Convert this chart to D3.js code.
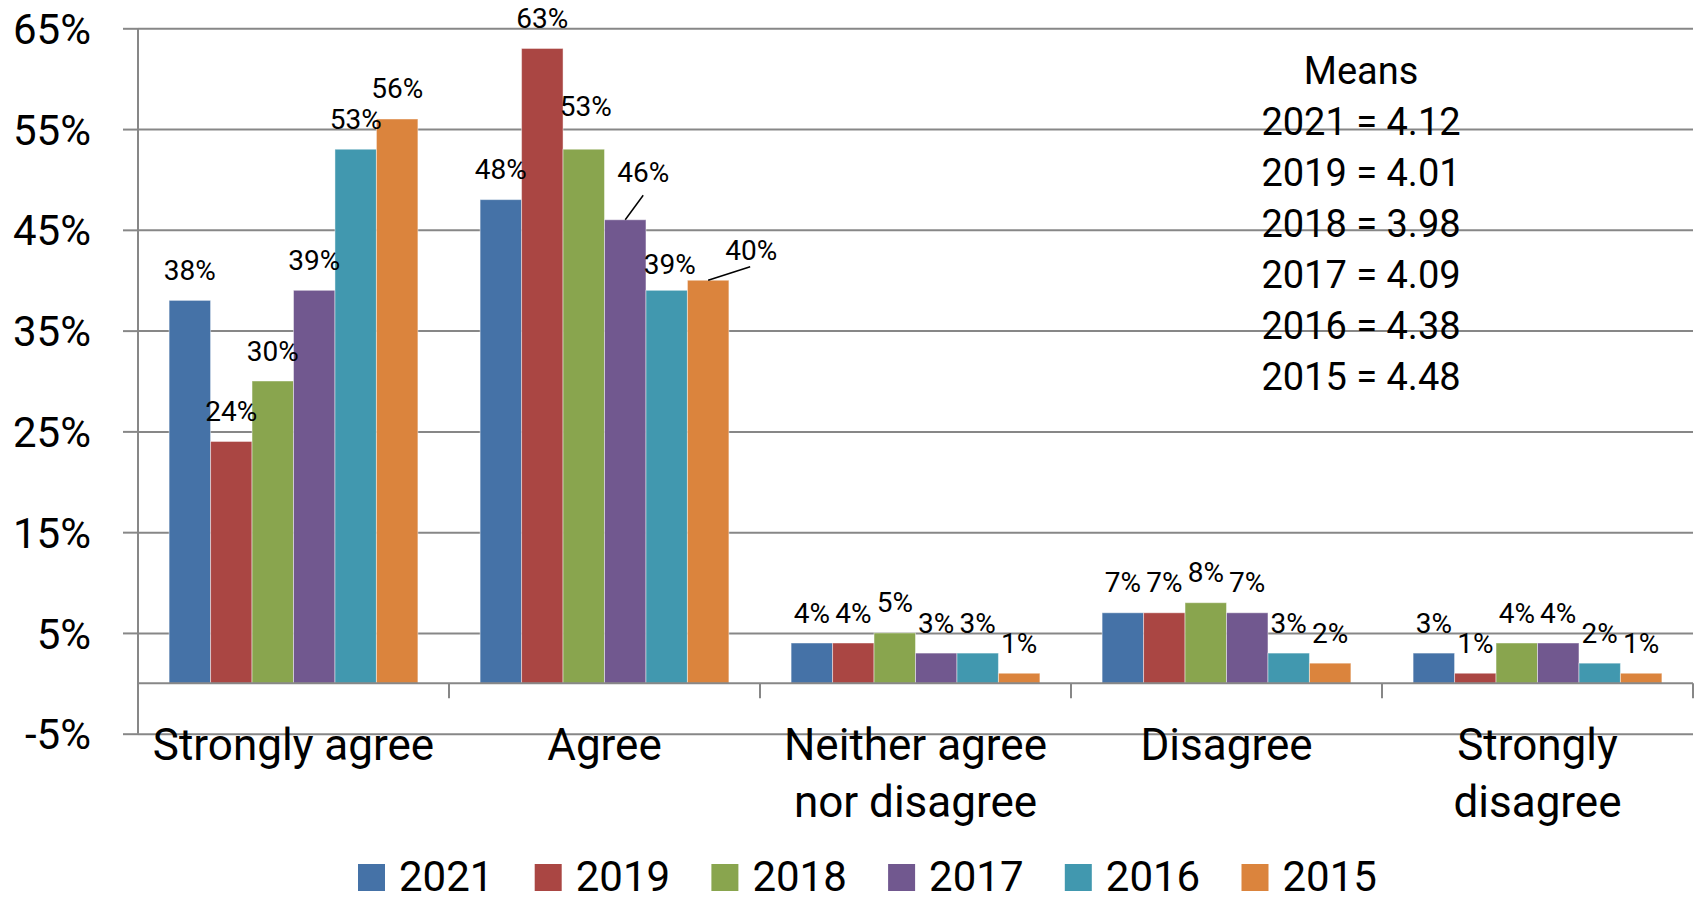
<!DOCTYPE html>
<html>
<head>
<meta charset="utf-8">
<script src="https://cdn.jsdelivr.net/npm/d3@7"></script>
<style>
  body { margin: 0; background: #fff; }
  text { font-family: Roboto, "Liberation Sans", sans-serif; fill: #000; }
</style>
</head>
<body>
<script>
'use strict';
// data
let categories = ["Strongly agree", "Agree", "Neither agree nor disagree", "Disagree", "Strongly disagree"];
let years = ["2021", "2019", "2018", "2017", "2016", "2015"];
let y2021 = [38, 48, 4, 7, 3];
let y2019 = [24, 63, 4, 7, 1];
let y2018 = [30, 53, 5, 8, 4];
let y2017 = [39, 46, 3, 7, 4];
let y2016 = [53, 39, 3, 3, 2];
let y2015 = [56, 40, 1, 2, 1];
let yTicks = [-5, 5, 15, 25, 35, 45, 55, 65];
let meansTitle = "Means";
let means = ["4.12", "4.01", "3.98", "4.09", "4.38", "4.48"];

let seriesValues = [y2021, y2019, y2018, y2017, y2016, y2015];
let colors = ["#4572A7", "#AA4643", "#89A54E", "#71588F", "#4198AF", "#DB843D"];

// a few labels were moved by hand in the original (px), some with leader lines
let labelNudge = {
	"Agree|2018": {dx: 2, dy: -13},
	"Agree|2017": {dx: 18, dy: -17, leader: true},
	"Agree|2016": {dx: 3, dy: 4},
	"Agree|2015": {dx: 43, dy: 0, leader: true}
};

let width = 1696, height = 900;
let left = 138, right = 1693;

let svg = d3.select("body").append("svg")
	.attr("width", width)
	.attr("height", height);

let x0 = d3.scaleBand()
	.domain(categories)
	.range([left, right])
	.paddingInner(0.2)
	.paddingOuter(0.1);

let x1 = d3.scaleBand()
	.domain(years)
	.range([0, x0.bandwidth()]);

let y = d3.scaleLinear()
	.domain([-5, 65])
	.range([733.7, 28.3]);

let gray = "#878787";

// gridlines
let grid = svg.append("g")
	.attr("transform", "translate(" + left + ",0)")
	.call(d3.axisLeft(y).tickValues(yTicks).tickSize(-(right - left)).tickFormat(""));
grid.select(".domain").remove();
grid.selectAll("line").attr("stroke", gray).attr("stroke-width", 2);

// y axis
let yAxis = svg.append("g")
	.attr("transform", "translate(" + left + ",0)")
	.call(d3.axisLeft(y).tickValues(yTicks).tickSize(15).tickPadding(32).tickFormat(function(d){return d + "%";}));
yAxis.select(".domain").attr("stroke", gray).attr("stroke-width", 2).attr("d", "M0," + y(-5) + "V" + y(65));
yAxis.selectAll("line").attr("stroke", gray).attr("stroke-width", 2);
yAxis.selectAll("text")
	.attr("font-size", 42)
	.attr("font-family", "Roboto, sans-serif")
	.attr("fill", "#000")
	.attr("dy", "0.36em");

// bars
let rows = [];
categories.forEach(function(c, ci){
	years.forEach(function(yr, si){
		rows.push({cat: c, year: yr, value: seriesValues[si][ci], color: colors[si]});
	});
});

svg.append("g").selectAll("rect")
	.data(rows)
	.enter().append("rect")
		.attr("x", function(d){return x0(d.cat) + x1(d.year);})
		.attr("y", function(d){return y(Math.max(0, d.value));})
		.attr("width", x1.bandwidth())
		.attr("height", function(d){return Math.abs(y(d.value) - y(0));})
		.attr("fill", function(d){return d.color;})
		.attr("stroke", "#fff")
		.attr("stroke-opacity", 0.45)
		.attr("stroke-width", 1);

// x axis at zero
let xg = svg.append("g");
xg.append("line")
	.attr("x1", left).attr("x2", right)
	.attr("y1", y(0)).attr("y2", y(0))
	.attr("stroke", gray).attr("stroke-width", 2);
xg.selectAll("line.tick")
	.data(d3.range(1, categories.length + 1))
	.enter().append("line")
		.attr("class", "tick")
		.attr("x1", function(i){return left + i * x0.step();})
		.attr("x2", function(i){return left + i * x0.step();})
		.attr("y1", y(0))
		.attr("y2", y(0) + 15)
		.attr("stroke", gray).attr("stroke-width", 2);

// category labels, wrapped like the original
let catLabels = xg.selectAll("text.cat")
	.data(categories)
	.enter().append("text")
		.attr("class", "cat")
		.attr("x", function(d){return x0(d) + x0.bandwidth() / 2;})
		.attr("y", 760)
		.attr("text-anchor", "middle")
		.attr("font-size", 44)
		.text(function(d){return d;});

catLabels.each(function(d){
	let t = d3.select(this);
	let words = d.split(" ");
	let cx = t.attr("x");
	t.text(null);
	let line = [];
	let tspan = t.append("tspan").attr("x", cx).attr("dy", 0);
	words.forEach(function(w){
		line.push(w);
		tspan.text(line.join(" "));
		if (tspan.node().getComputedTextLength() > x0.step() - 8 && line.length > 1) {
			line.pop();
			tspan.text(line.join(" "));
			line = [w];
			tspan = t.append("tspan").attr("x", cx).attr("dy", 57).text(w);
		}
	});
});

// data labels
let labels = svg.append("g");
rows.forEach(function(d){
	let n = labelNudge[d.cat + "|" + d.year] || {dx: 0, dy: 0};
	let bx = x0(d.cat) + x1(d.year) + x1.bandwidth() / 2;
	let by = y(d.value);
	let tx = bx + n.dx;
	let ty = by - 20.5 + n.dy;
	if (n.leader) {
		labels.append("line")
			.attr("x1", bx)
			.attr("y1", by)
			.attr("x2", tx - (n.dx > 30 ? 1 : 0))
			.attr("y2", ty + 13 - (n.dx > 30 ? 6 : 0))
			.attr("stroke", "#000")
			.attr("stroke-width", 1.5);
	}
	labels.append("text")
		.attr("x", tx)
		.attr("y", ty)
		.attr("text-anchor", "middle")
		.attr("font-size", 28)
		.text(d.value + "%");
});

// means text box
let meansBox = svg.append("text")
	.attr("x", 1361)
	.attr("y", 83.5)
	.attr("text-anchor", "middle")
	.attr("font-size", 38);
meansBox.append("tspan").attr("x", 1361).attr("dy", 0).text(meansTitle);
years.forEach(function(yr, i){
	meansBox.append("tspan")
		.attr("x", 1361)
		.attr("dy", 51.1)
		.text(yr + " = " + means[i]);
});

// legend
let legend = svg.append("g").selectAll("g")
	.data(years)
	.enter().append("g")
		.attr("transform", function(d, i){return "translate(" + (358 + i * 176.7) + ",864)";});
legend.append("rect")
	.attr("width", 27)
	.attr("height", 27)
	.attr("fill", function(d, i){return colors[i];});
legend.append("text")
	.attr("x", 41)
	.attr("y", 27)
	.attr("font-size", 42)
	.text(function(d){return d;});
</script>
</body>
</html>
